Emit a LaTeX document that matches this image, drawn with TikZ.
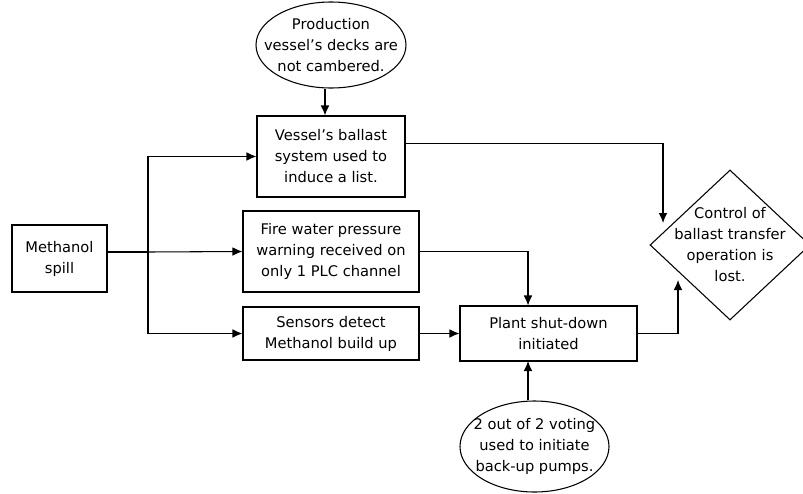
\documentclass[tikz,border=0pt]{standalone}
\usepackage{fontspec}
\setmainfont{DejaVu Sans}
\usetikzlibrary{arrows.meta, shapes.geometric}

\begin{document}
\begin{tikzpicture}[x=0.75pt,y=-0.75pt,
  font=\fontsize{11}{15.75}\selectfont, line width=0.8pt,
  box/.style={draw, rectangle, align=center, inner sep=0pt},
  oval/.style={draw, ellipse, align=center, inner xsep=-14pt, inner ysep=0pt},
  decision/.style={draw, diamond, align=center, inner sep=-8pt},
  arr/.style={-{Latex[length=7.5pt,width=6.5pt]}}]
\useasboundingbox (0,0) rectangle (803,493);
% Starting event
\node[box, minimum width=71.25pt, minimum height=50.25pt] (spill) at (59.5,258.5) {Methanol\\spill};
% Middle column of events
\node[box, minimum width=111pt, minimum height=60.75pt] (ballast) at (331,156.5) {Vessel's ballast\\system used to\\induce a list.};
\node[box, minimum width=132pt, minimum height=60.75pt] (firewater) at (331,251.5) {Fire water pressure\\warning received on\\only 1 PLC channel};
\node[box, minimum width=132pt, minimum height=39.75pt] (sensors) at (331,333.5) {Sensors detect\\Methanol build up};
\node[box, minimum width=132.75pt, minimum height=41.25pt] (shutdown) at (548.5,333.5) {Plant shut-down\\initiated};
% Conditions
\node[oval, minimum width=112.5pt, minimum height=64.5pt] (decks) at (331,45) {Production\\vessel's decks are\\not cambered.};
\node[oval, minimum width=111.75pt, minimum height=68.25pt] (voting) at (534.5,446.5) {2 out of 2 voting\\used to initiate\\back-up pumps.};
% Outcome
\node[decision, minimum width=120pt, minimum height=112.5pt] (lost) at (730,245) {Control of\\ballast transfer\\operation is\\lost.};
% Branch point and arrow ends
\coordinate (split) at (148,252);
\coordinate (tap) at (528,361);
\coordinate (lostin1) at (663,223);
\coordinate (lostin2) at (678,280);
% Connectors
\draw[arr] (decks.south -| 325,0) -- (ballast.north -| 325,0);
\draw (spill.east |- split) -- (split);
\draw[arr] (split) -- (firewater.west);
\draw[arr] (split) |- (ballast.west);
\draw[arr] (split) |- (sensors.west);
\draw[arr] (sensors.east) -- (shutdown.west);
\draw[arr] (firewater.east) -| (shutdown.north -| tap);
\draw[arr] (voting.north -| tap) -- (tap);
\draw[arr] ([yshift=10pt]ballast.east) -| (lostin1);
\draw[arr] (shutdown.east) -| (lostin2);
\end{tikzpicture}
\end{document}
